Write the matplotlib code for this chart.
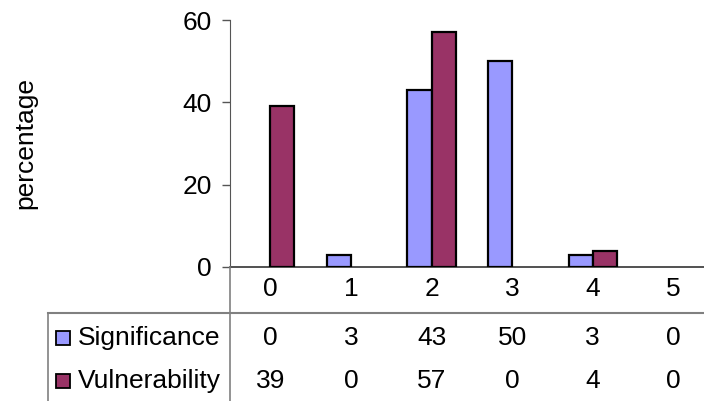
import numpy as np
import matplotlib.pyplot as plt
from matplotlib.lines import Line2D
from matplotlib.transforms import blended_transform_factory

plt.rcParams["font.family"] = ["Liberation Sans", "DejaVu Sans"]

categories = ["0", "1", "2", "3", "4", "5"]
significance = [0, 3, 43, 50, 3, 0]
vulnerability = [39, 0, 57, 0, 4, 0]
series_names = ["Significance", "Vulnerability"]
colors = ["#9999FF", "#993366"]

W, H = 704, 401
fs = 19
fig = plt.figure(figsize=(W / 100, H / 100), dpi=100)


def fy(py):
    # pixel row from top -> figure fraction
    return 1 - py / H


def fx(px):
    return px / W


ax_left, ax_top, ax_bottom = 230, 20, 267
cat_w = 80.6
ax = fig.add_axes([fx(ax_left), fy(ax_bottom), fx(cat_w * 6), (ax_bottom - ax_top) / H])

x = np.arange(len(categories))
bw = 0.3
for off, vals, col in [(-bw / 2, significance, colors[0]), (bw / 2, vulnerability, colors[1])]:
    lws = [1.6 if v > 0 else 0 for v in vals]
    ax.bar(x + off, vals, bw, color=col, edgecolor="black", linewidth=lws, zorder=3)

ax.set_xlim(-0.5, len(categories) - 0.5)
ax.set_ylim(0, 60)
ax.set_yticks([0, 20, 40, 60])
ax.set_xticks([])
ax.tick_params(axis="y", length=6, width=1, color="#555555", labelsize=fs, pad=7)
for s in ["top", "right"]:
    ax.spines[s].set_visible(False)
ax.spines["left"].set_color("#555555")
ax.spines["bottom"].set_color("#333333")
ax.spines["bottom"].set_linewidth(1.2)

fig.text(fx(25), fy(143), "percentage", rotation=90, ha="center", va="center", fontsize=fs)

# data table below the chart
tr = blended_transform_factory(ax.transData, fig.transFigure)
grid_c = "#808080"
fig.add_artist(Line2D([fx(48), 1], [fy(313), fy(313)], color=grid_c, lw=1.5))
fig.add_artist(Line2D([fx(230), fx(230)], [fy(267), 0], color=grid_c, lw=1.2))
fig.add_artist(Line2D([fx(48), fx(48)], [fy(313), 0], color=grid_c, lw=1.2))

for i, c in enumerate(categories):
    fig.text(x[i], fy(289), c, transform=tr, ha="center", va="center", fontsize=fs)

rows = [significance, vulnerability]
row_y = [338, 381]
for r, vals in enumerate(rows):
    fig.add_artist(Line2D([fx(62.5)], [fy(row_y[r])], marker="s", markersize=9.5,
                          markerfacecolor=colors[r], markeredgecolor="black", markeredgewidth=1.3))
    fig.text(fx(78), fy(row_y[r]), series_names[r], ha="left", va="center", fontsize=fs)
    for i, v in enumerate(vals):
        fig.text(x[i], fy(row_y[r]), str(v), transform=tr, ha="center", va="center", fontsize=fs)

fig.savefig("out.png", dpi=100)
